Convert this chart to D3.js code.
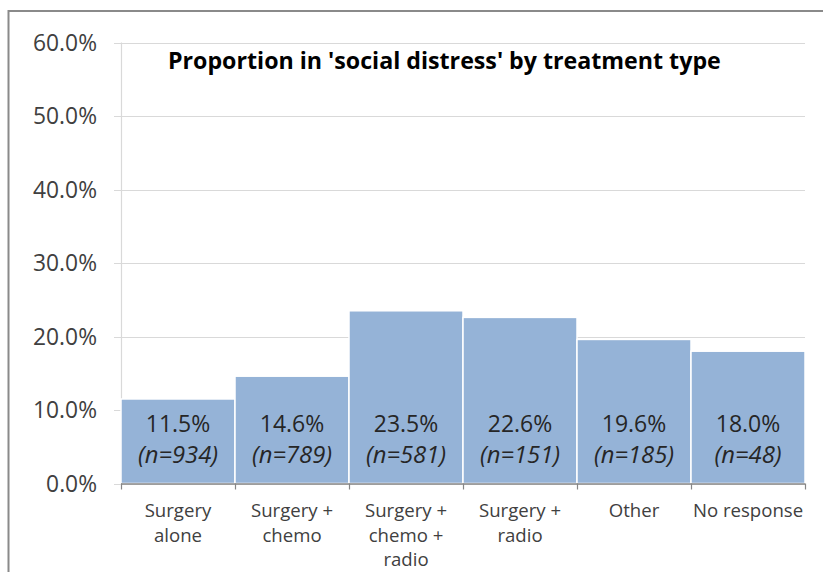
<!DOCTYPE html>
<html>
<head>
<meta charset="utf-8">
<script src="https://cdn.jsdelivr.net/npm/d3@7"></script>
<style>
  html, body { margin: 0; padding: 0; background: #fff; }
  svg { display: block; font-family: "Open Sans", "Noto Sans", sans-serif; }
</style>
</head>
<body>
<svg id="chart" width="823" height="572"></svg>
<script>
// Treatment groups, share in social distress (%) and group sizes
const categories = [
  ["Surgery", "alone"],
  ["Surgery +", "chemo"],
  ["Surgery +", "chemo +", "radio"],
  ["Surgery +", "radio"],
  ["Other"],
  ["No response"]
];
const values = [11.5, 14.6, 23.5, 22.6, 19.6, 18.0];
const counts = [934, 789, 581, 151, 185, 48];
const yTicks = [0, 10, 20, 30, 40, 50, 60];
const title = "Proportion in 'social distress' by treatment type";

const svg = d3.select("#chart");
const margin = { left: 121, right: 805, top: 42.5, bottom: 483.5 };

// outer chart frame
svg.append("rect")
  .attr("x", 8.5).attr("y", 11)
  .attr("width", 830).attr("height", 580)
  .attr("fill", "#fff")
  .attr("stroke", "#8a8a8a")
  .attr("stroke-width", 2);

const keys = d3.range(values.length);
const x = d3.scaleBand().domain(keys).range([margin.left, margin.right]).padding(0);
const y = d3.scaleLinear().domain([0, 60]).range([margin.bottom, margin.top]);

// horizontal gridlines
svg.append("g")
  .selectAll("line")
  .data(yTicks)
  .join("line")
  .attr("x1", margin.left - 7)
  .attr("x2", margin.right)
  .attr("y1", d => Math.round(y(d)) + 0.5)
  .attr("y2", d => Math.round(y(d)) + 0.5)
  .attr("stroke", "#d9d9d9")
  .attr("stroke-width", 1.2);

// vertical axis line
svg.append("line")
  .attr("x1", margin.left + 0.5).attr("x2", margin.left + 0.5)
  .attr("y1", y(60)).attr("y2", y(0))
  .attr("stroke", "#d9d9d9").attr("stroke-width", 1.2);

// y tick labels
svg.append("g")
  .selectAll("text")
  .data(yTicks)
  .join("text")
  .attr("x", 97)
  .attr("y", d => y(d))
  .attr("dy", "0.36em")
  .attr("text-anchor", "end")
  .attr("font-size", 22.8)
  .attr("fill", "#404040")
  .text(d => d.toFixed(1) + "%");

// bars
svg.append("g")
  .selectAll("rect")
  .data(keys)
  .join("rect")
  .attr("x", i => x(i))
  .attr("y", i => y(values[i]))
  .attr("width", x.bandwidth())
  .attr("height", i => y(0) - y(values[i]))
  .attr("fill", "#95b3d7")
  .attr("stroke", "#fff")
  .attr("stroke-width", 1.5);

// bottom axis with downward ticks
const xAxis = svg.append("g");
xAxis.append("line")
  .attr("x1", margin.left).attr("x2", margin.right)
  .attr("y1", margin.bottom + 0.5).attr("y2", margin.bottom + 0.5)
  .attr("stroke", "#868686").attr("stroke-width", 1.5);
xAxis.selectAll("line.tick")
  .data(d3.range(values.length + 1))
  .join("line")
  .attr("class", "tick")
  .attr("x1", i => (i < values.length ? x(i) : margin.right) + 0.5)
  .attr("x2", i => (i < values.length ? x(i) : margin.right) + 0.5)
  .attr("y1", margin.bottom)
  .attr("y2", margin.bottom + 6)
  .attr("stroke", "#868686").attr("stroke-width", 1.2);

// value labels inside bars
const lbl = svg.append("g").attr("text-anchor", "middle").attr("fill", "#262626");
lbl.selectAll("text.v")
  .data(keys).join("text").attr("class", "v")
  .attr("x", i => x(i) + x.bandwidth() / 2)
  .attr("y", 431.5)
  .attr("font-size", 23)
  .text(i => values[i].toFixed(1) + "%");
lbl.selectAll("text.n")
  .data(keys).join("text").attr("class", "n")
  .attr("x", i => x(i) + x.bandwidth() / 2)
  .attr("y", 463)
  .attr("font-size", 23.8)
  .attr("font-style", "italic")
  .text(i => "(n=" + counts[i] + ")");

// category labels
const cat = svg.append("g").attr("text-anchor", "middle").attr("fill", "#404040").attr("font-size", 18.6);
keys.forEach(i => {
  categories[i].forEach((line, j) => {
    cat.append("text")
      .attr("x", x(i) + x.bandwidth() / 2)
      .attr("y", 517 + j * 24.5)
      .text(line);
  });
});

// title
svg.append("text")
  .attr("x", 168)
  .attr("y", 69)
  .attr("font-size", 23.2)
  .attr("font-weight", "bold")
  .attr("fill", "#000")
  .text(title);
</script>
</body>
</html>
